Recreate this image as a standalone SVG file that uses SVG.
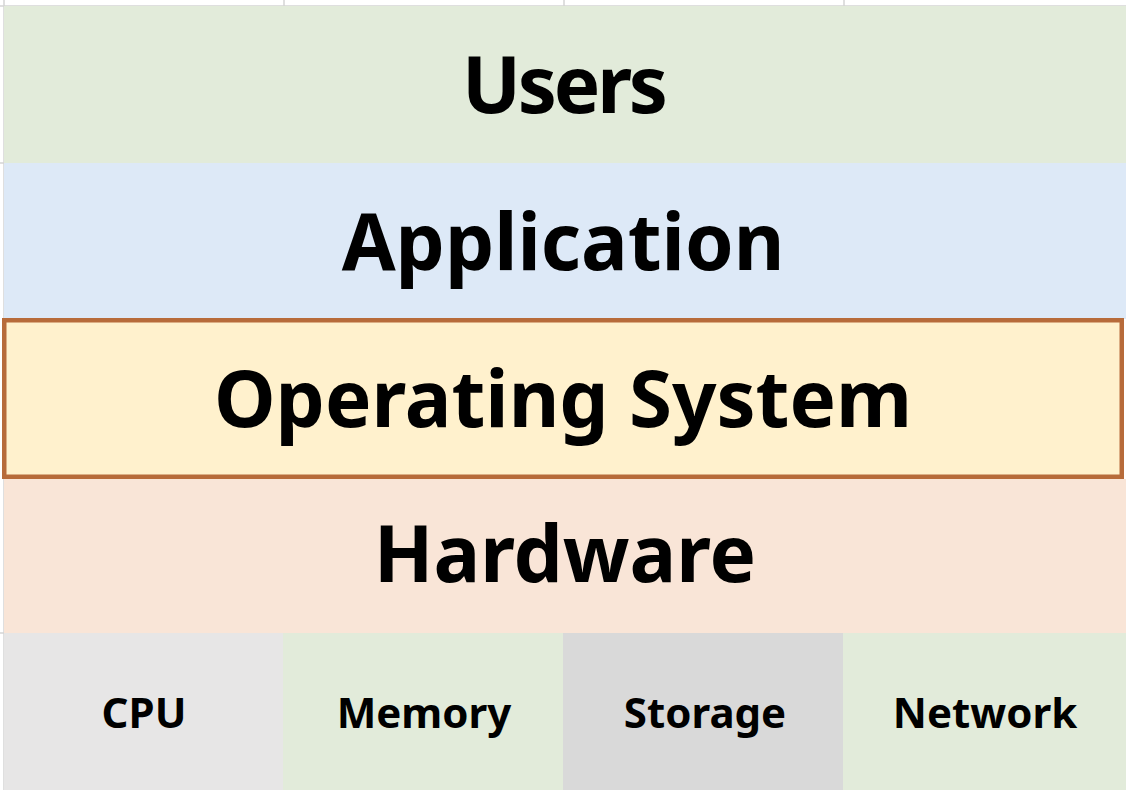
<svg xmlns="http://www.w3.org/2000/svg" width="1126" height="790" viewBox="0 0 1126 790">
<style>
.big{font-family:"Noto Sans","Open Sans",sans-serif;font-weight:bold;font-size:78px;fill:#000;text-anchor:middle}
.small{font-family:"Noto Sans","Open Sans",sans-serif;font-weight:bold;font-size:42px;fill:#000;text-anchor:middle}
.grid{stroke:#D4D4D4;stroke-width:1.5;fill:none}
</style>
<rect width="1126" height="790" fill="#FFFFFF"/>
<g id="grid">
<line class="grid" x1="0" y1="6" x2="1126" y2="6"/>
<line class="grid" x1="4" y1="0" x2="4" y2="790"/>
<line class="grid" x1="284" y1="0" x2="284" y2="6"/>
<line class="grid" x1="564" y1="0" x2="564" y2="6"/>
<line class="grid" x1="844" y1="0" x2="844" y2="6"/>
<line class="grid" x1="0" y1="163" x2="4" y2="163"/>
<line class="grid" x1="0" y1="633" x2="4" y2="633"/>
</g>
<g id="users">
<rect x="4" y="6" width="1122" height="157" fill="#E2EBDA"/>
<text class="big" x="565" y="113" textLength="206">Users</text>
</g>
<g id="application">
<rect x="4" y="163" width="1122" height="156" fill="#DDE9F7"/>
<text class="big" x="563" y="270">Application</text>
</g>
<g id="hardware">
<rect x="4" y="479" width="1122" height="154" fill="#F9E5D7"/>
<text class="big" x="565" y="582">Hardware</text>
</g>
<g id="operating-system">
<rect x="4.25" y="320.25" width="1117.5" height="156.5" fill="#FFF1CD" stroke="#B76B3A" stroke-width="4.5"/>
<text class="big" x="563" y="427">Operating System</text>
</g>
<g id="cpu">
<rect x="4" y="633" width="279" height="157" fill="#E7E6E6"/>
<text class="small" x="144" y="728">CPU</text>
</g>
<g id="memory">
<rect x="283" y="633" width="280" height="157" fill="#E2EBDA"/>
<text class="small" x="424" y="728">Memory</text>
</g>
<g id="storage">
<rect x="563" y="633" width="280" height="157" fill="#D9D9D9"/>
<text class="small" x="705" y="728">Storage</text>
</g>
<g id="network">
<rect x="843" y="633" width="283" height="157" fill="#E2EBDA"/>
<text class="small" x="985" y="728">Network</text>
</g>
<g id="connectors"></g>
</svg>
